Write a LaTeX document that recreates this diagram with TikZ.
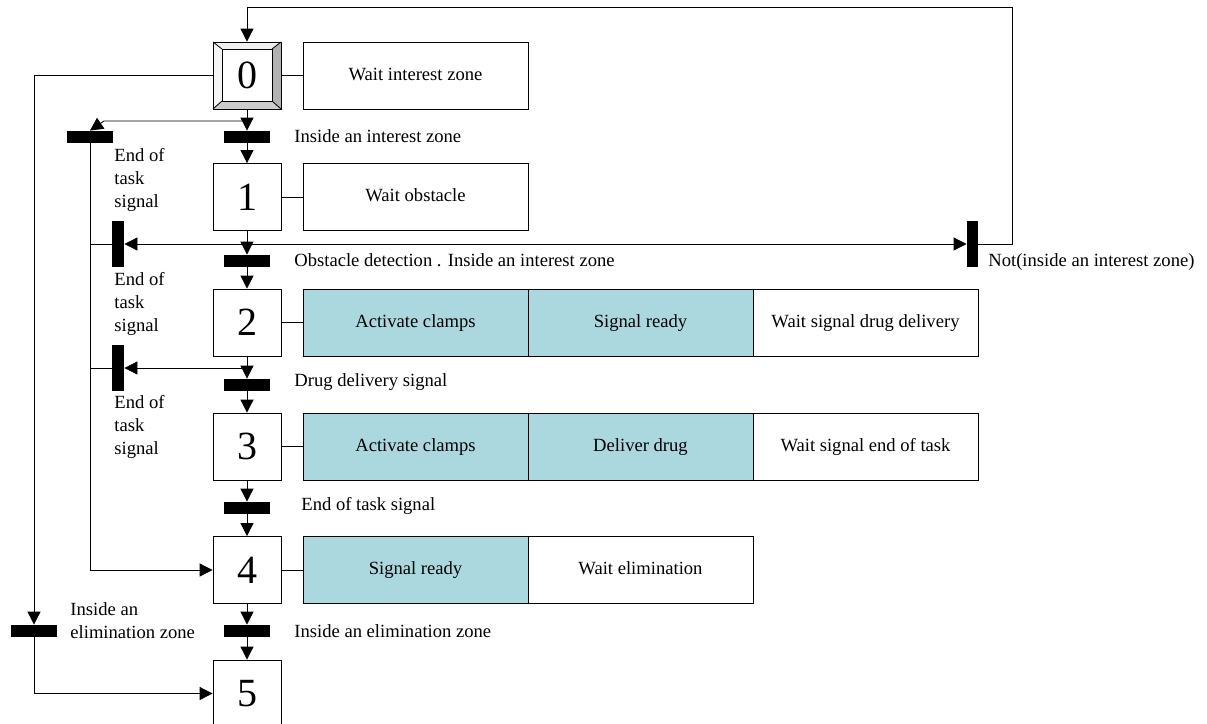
\documentclass[tikz,border=0pt]{standalone}
\usepackage{fontspec}
\setmainfont{Liberation Serif}
\usetikzlibrary{arrows.meta}

\definecolor{actcyan}{RGB}{170,216,222}

\tikzset{
	stepbox/.style={draw,minimum width=34pt,minimum height=33.5pt,inner sep=0pt,font=\fontsize{20}{20}\selectfont},
	actbox/.style={draw,minimum width=112.5pt,minimum height=33.5pt,inner sep=0pt,text height=0.7em,text depth=0.22em,font=\fontsize{9.3}{11.5}\selectfont},
	actcol/.style={actbox,fill=actcyan},
	hbar/.style={fill=black,minimum width=23pt,minimum height=6pt,inner sep=0pt},
	vbar/.style={fill=black,minimum width=6pt,minimum height=23pt,inner sep=0pt},
	lbl/.style={anchor=west,inner sep=0pt,align=left,font=\fontsize{9.3}{11.5}\selectfont},
	flow/.style={-{Triangle[length=6.5pt,width=6.5pt]}}
}

\begin{document}
\begin{tikzpicture}[x=0.5pt,y=-0.5pt]
		\useasboundingbox (0,0) rectangle (1207,724);
		
		% initial step, bevelled frame
		\fill[gray!12] (213,42) -- (281,42) -- (272,49) -- (222,49) -- cycle;
		\fill[gray!8] (213,42) -- (222,49) -- (222,101) -- (213,109) -- cycle;
		\fill[gray!60] (281,42) -- (281,109) -- (272,101) -- (272,49) -- cycle;
		\fill[gray!40] (213,109) -- (222,101) -- (272,101) -- (281,109) -- cycle;
		\draw (222,49) rectangle (272,101);
		\draw (213,42) -- (222,49) (281,42) -- (272,49) (213,109) -- (222,101) (281,109) -- (272,101);
		
		% steps
		\node[stepbox] (s0) at (247,75.5) {0};
		\node[stepbox] (s1) at (247,197) {1};
		\node[stepbox] (s2) at (247,322.5) {2};
		\node[stepbox] (s3) at (247,446.5) {3};
		\node[stepbox] (s4) at (247,570) {4};
		\node[stepbox] (s5) at (247,693.5) {5};
		
		% actions
		\node[actbox] (a0) at (415.5,75.5) {Wait interest zone};
		\node[actbox] (a1) at (415.5,197) {Wait obstacle};
		\node[actcol] (a2a) at (415.5,322.5) {Activate clamps};
		\node[actcol] (a2b) at (640.5,322.5) {Signal ready};
		\node[actbox] (a2c) at (865.5,322.5) {Wait signal drug delivery};
		\node[actcol] (a3a) at (415.5,446.5) {Activate clamps};
		\node[actcol] (a3b) at (640.5,446.5) {Deliver drug};
		\node[actbox] (a3c) at (865.5,446.5) {Wait signal end of task};
		\node[actcol] (a4a) at (415.5,570) {Signal ready};
		\node[actbox] (a4b) at (640.5,570) {Wait elimination};
		\foreach \s/\a in {s0/a0,s1/a1,s2/a2a,s3/a3a,s4/a4a} \draw (\s) -- (\a);
		
		% transitions
		\node[hbar] (t01) at (247,137) {};
		\node[hbar] (t12) at (247,261) {};
		\node[hbar] (t23) at (247,385) {};
		\node[hbar] (t34) at (247,508) {};
		\node[hbar] (t45) at (247,631) {};
		\node[hbar] (lb0) at (90,137) {};
		\node[vbar] (lb1) at (118,244) {};
		\node[vbar] (lb2) at (118,368) {};
		\node[vbar,minimum width=5.5pt] (nb) at (972.5,244) {};
		\node[hbar] (eb) at (34,631) {};
		
		\coordinate (j0) at (247,121);
		\coordinate (j1) at (247,244);
		\coordinate (j2) at (247,368);
		\coordinate (k1) at (90,244);
		\coordinate (k2) at (90,368);
		
		% main sequence
		\foreach \u/\v in {s0/t01,t01/s1,s1/t12,t12/s2,s2/t23,t23/s3,s3/t34,t34/s4,s4/t45,t45/s5}
			\draw[flow] (\u) -- (\v);
		
		% branches
		\draw[flow] (j0) -- (104,121) -- (lb0.north);
		\draw[flow] (lb0.south) |- (s4.west);
		\draw[flow] (j1) -- (lb1.east);
		\draw (lb1.west) -- (k1);
		\draw[flow] (j2) -- (lb2.east);
		\draw (lb2.west) -- (k2);
		\draw[flow] (j1) -- (nb.west);
		\draw[flow] (nb.east) -| (1012,7) -| (s0.north);
		\draw[flow] (s0.west) -| (eb.north);
		\draw[flow] (eb.south) |- (s5.west);
		
		% receptivities
		\node[lbl] (r01) at (294,136) {Inside an interest zone};
		\node[lbl] (r12) at (294,260) {Obstacle detection . Inside an interest zone};
		\node[lbl] (r23) at (294,382) {Drug delivery signal};
		\node[lbl] (r34) at (301,506) {End of task signal};
		\node[lbl] (r45) at (294,631) {Inside an elimination zone};
		\node[lbl] (rn) at (988,262) {Not(inside an interest zone)};
		\node[lbl] (rl0) at (114,180) {End of\\task\\signal};
		\node[lbl] (rl1) at (114,303.5) {End of\\task\\signal};
		\node[lbl] (rl2) at (114,427) {End of\\task\\signal};
		\node[lbl] (re) at (70,621) {Inside an\\elimination zone};
		\end{tikzpicture}
\end{document}
